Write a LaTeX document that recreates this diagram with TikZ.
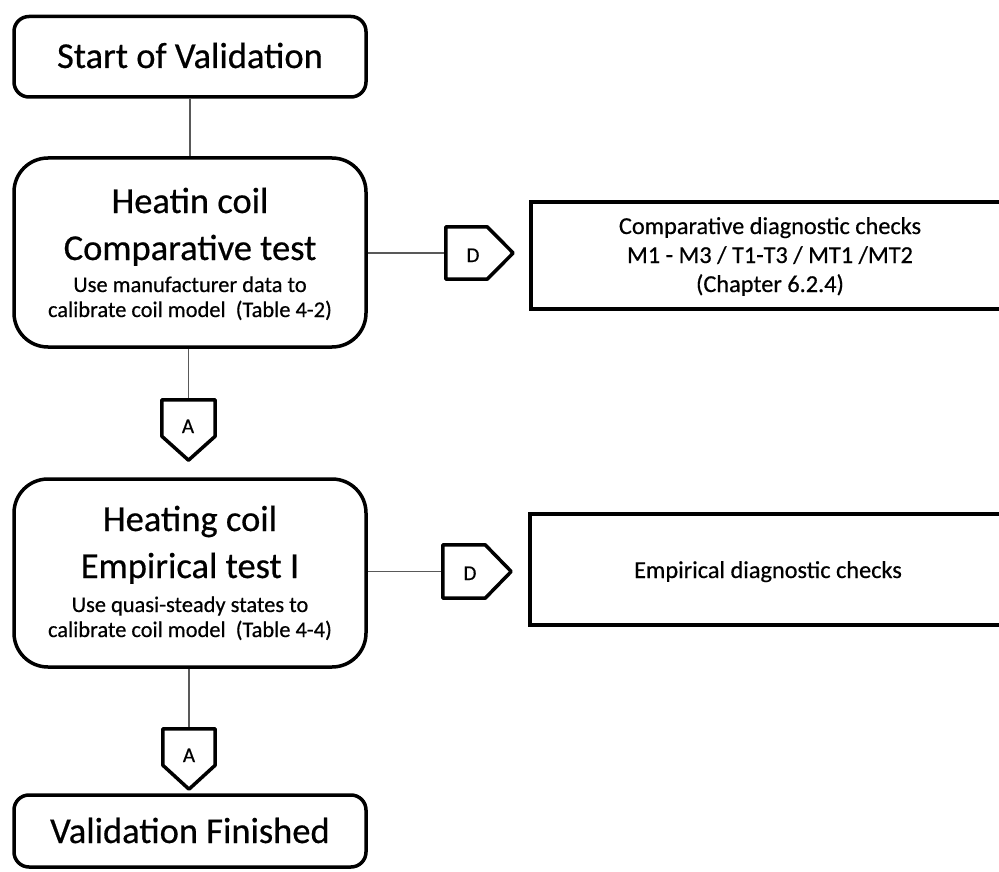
\documentclass[tikz,border=0pt]{standalone}
\usepackage{fontspec}
\setmainfont{Carlito}[FakeBold=0.5]
\usetikzlibrary{calc}

\tikzset{
  x=1pt, y=-1pt,
  stepbox/.style={draw=black, line width=3.5pt, fill=white, inner sep=0pt,
    rounded corners=#1},
  checkbox/.style={draw=black, line width=3.5pt, fill=white, inner sep=0pt},
  tagholder/.style={inner sep=0pt},
  tagline/.style={draw=black, line width=3.5pt, fill=white, line join=round},
  link/.style={draw=black!65, line width=1.3pt},
  % multi-line texts sit on the baseline of their last line
  titletext/.style={inner sep=0pt, anchor=base, align=center,
    font=\fontsize{36.5}{47}\selectfont},
  notetext/.style={inner sep=0pt, anchor=base, align=center,
    font=\fontsize{22.4}{25}\selectfont},
  checktext/.style={inner sep=0pt, anchor=base, align=center,
    font=\fontsize{24.3}{29}\selectfont},
  tagtext/.style={inner sep=0pt, anchor=base, font=\fontsize{21}{25}\selectfont},
}

% off-page connector pointing down / pointing right
\newcommand\tagdown[2]{\draw[tagline] (#1.north west) -- (#1.north east)
  -- (#1.south east) -- ($(#1.south)+(0,#2)$) -- (#1.south west) -- cycle;}
\newcommand\tagright[2]{\draw[tagline] (#1.north west) -- (#1.north east)
  -- ($(#1.east)+(#2,0)$) -- (#1.south east) -- (#1.south west) -- cycle;}

\begin{document}
\begin{tikzpicture}
\clip (0,0) rectangle (999,872);
\fill[white] (0,0) rectangle (999,872);

% main column
\node[stepbox=15pt, minimum width=352pt, minimum height=80.5pt] (start) at (190,56.75) {};
\node[stepbox=34pt, minimum width=352pt, minimum height=189pt] (heat) at (190,252.5) {};
\node[stepbox=34pt, minimum width=352pt, minimum height=188pt] (emp) at (190,573) {};
\node[stepbox=15pt, minimum width=352pt, minimum height=72pt] (fin) at (190,831) {};

% diagnostic boxes
\node[checkbox, minimum width=479pt, minimum height=107pt] (cmpchk) at (770.5,255.5) {};
\node[checkbox, minimum width=480pt, minimum height=111pt] (empchk) at (770,569.5) {};

% connector tags
\node[tagholder, minimum width=53pt, minimum height=36pt] (a1) at (188.5,418) {};
\node[tagholder, minimum width=52pt, minimum height=36pt] (a2) at (189,747) {};
\node[tagholder, minimum width=41pt, minimum height=52pt] (d1) at (466.5,253) {};
\node[tagholder, minimum width=42pt, minimum height=53pt] (d2) at (464,571.5) {};

% links
\draw[link] (start.south) -- (heat.north);
\draw[link] (heat.south -| a1.north) -- (a1.north);
\draw[link] (heat.east |- d1.west) -- (d1.west);
\draw[link] (emp.south -| a2.north) -- (a2.north);
\draw[link] (emp.east |- d2.west) -- (d2.west);

\tagdown{a1}{24}
\tagdown{a2}{24}
\tagright{d1}{26}
\tagright{d2}{26}

% texts
\node[titletext] (start-t) at (190,68) {Start of Validation};
\node[titletext] (heat-t) at (190,260) {Heatin coil\\Comparative test};
\node[notetext] (heat-n) at (190,317) {Use manufacturer data to\\calibrate coil model\ \ (Table 4-2)};
\node[titletext] (emp-t) at (190,578) {Heating coil\\Empirical test I};
\node[notetext] (emp-n) at (190,637) {Use quasi-steady states to\\calibrate coil model\ \ (Table 4-4)};
\node[titletext] (fin-t) at (190,843) {Validation Finished};

\node[checktext] (cmpchk-t) at (770,292) {Comparative diagnostic checks\\M1 - M3 / T1-T3 / MT1 /MT2\\(Chapter 6.2.4)};
\node[checktext] (empchk-t) at (768,578) {Empirical diagnostic checks};

\node[tagtext] (a1-t) at (188,433) {A};
\node[tagtext] (a2-t) at (189,762) {A};
\node[tagtext] (d1-t) at (473,262) {D};
\node[tagtext] (d2-t) at (470,580) {D};
\end{tikzpicture}
\end{document}
